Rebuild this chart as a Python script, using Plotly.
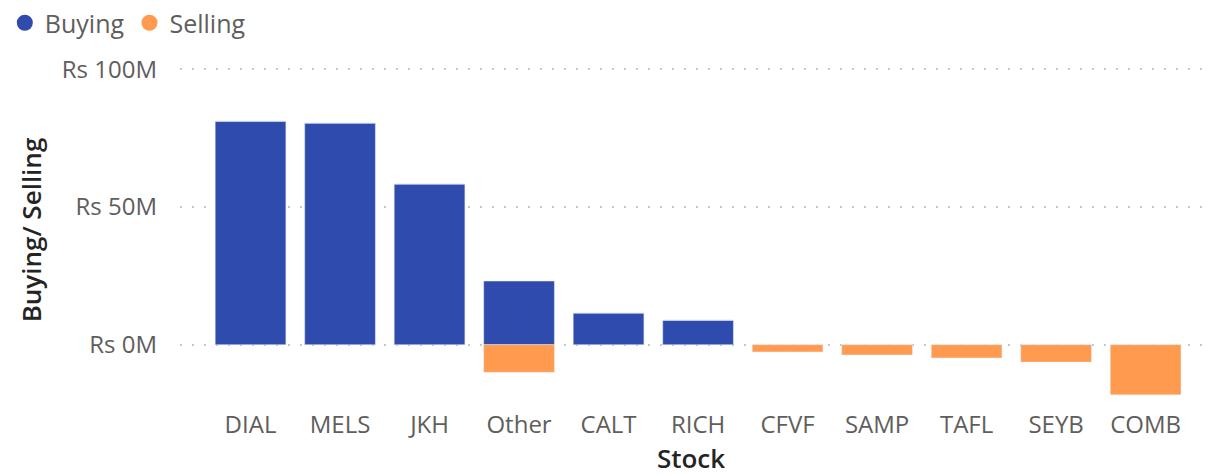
import plotly.graph_objects as go

stocks = ["DIAL", "MELS", "JKH", "Other", "CALT", "RICH", "CFVF", "SAMP", "TAFL", "SEYB", "COMB"]
buying = [81.1, 80.4, 58.3, 23.1, 11.5, 8.9, 0, 0, 0, 0, 0]
selling = [0, 0, 0, -10.0, 0, 0, -2.6, -3.7, -4.8, -6.3, -18.2]
tick_vals = [0, 50, 100]
tick_text = ["Rs 0M", "Rs 50M", "Rs 100M"]

BLUE = "#304BAE"
ORANGE = "#FF9A4F"
FONT = "Segoe UI, Open Sans, Noto Sans, sans-serif"

fig = go.Figure()
fig.add_trace(go.Bar(x=stocks, y=buying, name="Buying", marker_color=BLUE,
                     showlegend=False))
fig.add_trace(go.Bar(x=stocks, y=selling, name="Selling", marker_color=ORANGE,
                     showlegend=False))
# legend entries with circular symbols
fig.add_trace(go.Scatter(x=[None], y=[None], mode="markers", name="Buying",
                         marker=dict(color=BLUE, size=19, symbol="circle")))
fig.add_trace(go.Scatter(x=[None], y=[None], mode="markers", name="Selling",
                         marker=dict(color=ORANGE, size=19, symbol="circle")))

fig.update_layout(
    width=1208, height=476,
    margin=dict(l=180, r=6, t=60, b=76),
    paper_bgcolor="white", plot_bgcolor="white",
    barmode="relative", bargap=0.21,
    font=dict(family=FONT, color="#605E5C", size=24),
    legend=dict(orientation="h", x=0.004, y=1, xref="container", yref="container",
                xanchor="left", yanchor="top", itemsizing="trace",
                font=dict(size=25, color="#605E5C"), tracegroupgap=0,
                itemwidth=30, bgcolor="rgba(0,0,0,0)"),
    xaxis=dict(
        type="category", range=[-0.788, 10.63], showgrid=False, zeroline=False,
        showline=False, ticks="", tickfont=dict(size=24, color="#605E5C"),
        ticklabelstandoff=8,
        title=dict(text="Stock", font=dict(size=26, color="#252423",
                                            family=FONT, weight=600), standoff=9),
    ),
    yaxis=dict(
        range=[-20.06, 103.3], tickvals=tick_vals, ticktext=tick_text,
        showgrid=True, gridcolor="#C8C8C8", gridwidth=2, griddash="2px,10px",
        zeroline=False, showline=False, ticks="",
        tickfont=dict(size=24, color="#605E5C"), ticklabelstandoff=22,
        title=dict(text="Buying/ Selling", font=dict(size=26, color="#252423",
                                                     family=FONT, weight=600),
                   standoff=12),
    ),
)

fig.write_html("out.html", config={"displayModeBar": False},
               post_script="document.body.style.margin='0';")
